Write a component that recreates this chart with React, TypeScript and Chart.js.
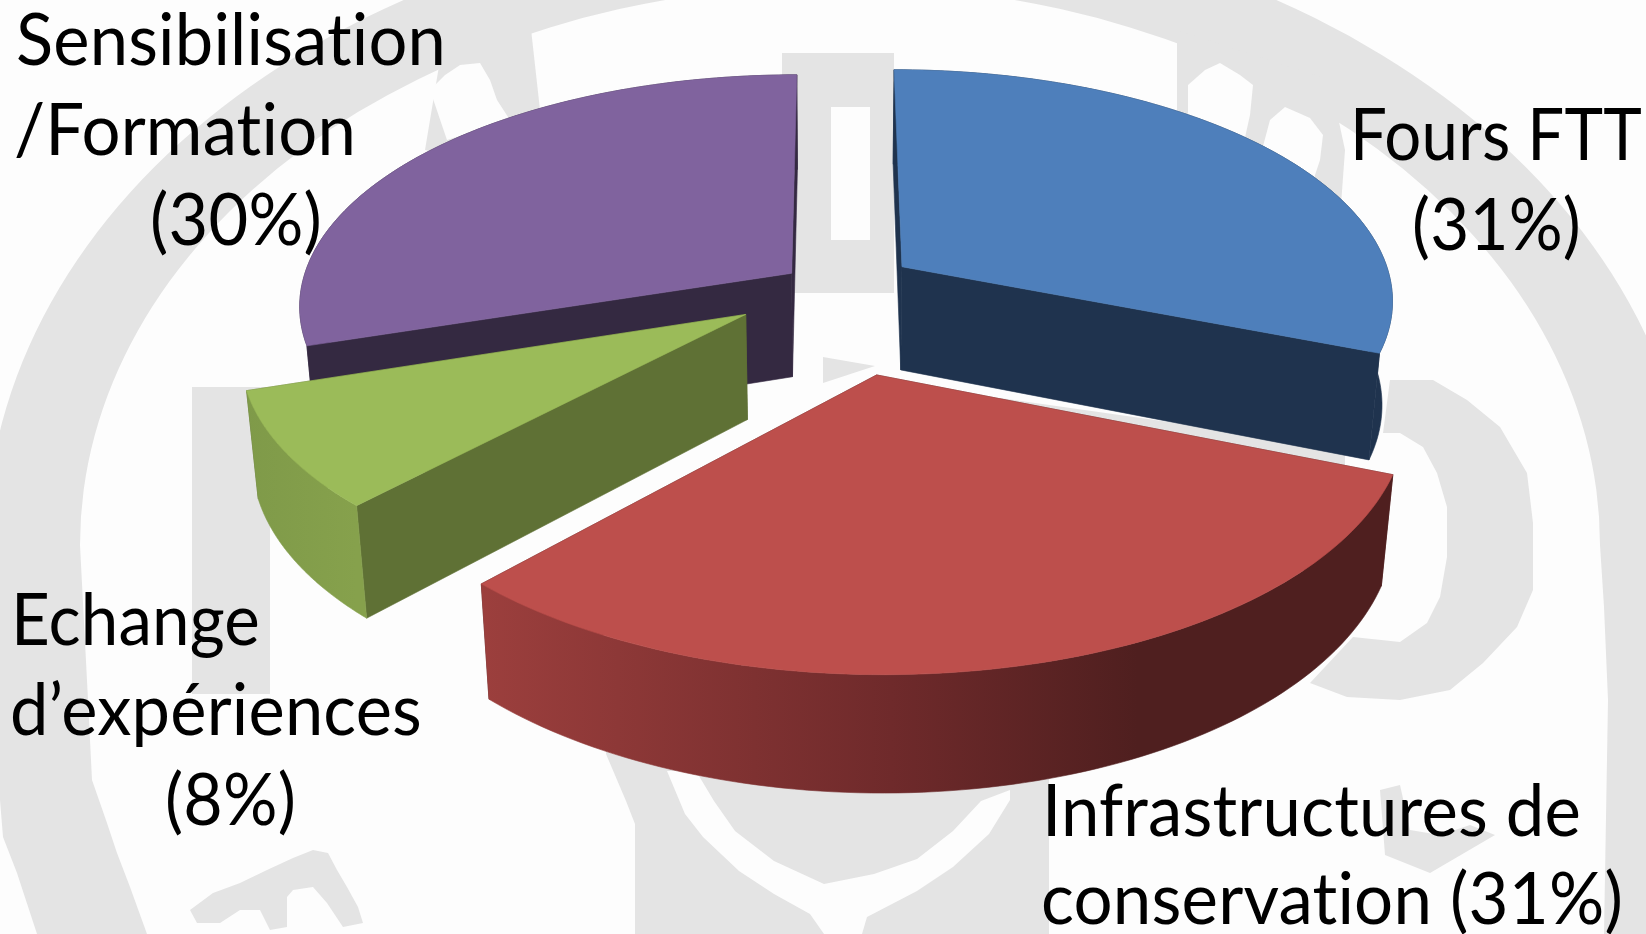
import React, { useEffect, useRef } from "react";
import { Chart, registerables } from "chart.js";

Chart.register(...registerables);

// ---- data ----
const categories = ["Fours FTT", "Infrastructures de conservation", "Echange d’expériences", "Sensibilisation /Formation"];
const shares = [31, 31, 8, 30];

// ---- style: colours per slice ----
const topColors = ["#4e7fbb", "#bd4f4c", "#9bbb59", "#80639e"];
const faceColors = ["#1f334e", "#4f1f1f", "#5f7135", "#342941"];
const rimStops: [number, string][][] = [
  [[0, "#1f334e"], [1, "#1f334e"]],
  [[0, "#9c3f3d"], [0.45, "#6f2a2b"], [0.72, "#4f1f1f"], [1, "#4f1f1f"]],
  [[0, "#7f9a49"], [1, "#86a14c"]],
  [[0, "#342941"], [1, "#342941"]],
];
// How far each slice is pulled out of the pie, as a fraction of its radius
const sliceExplode = [0.167, 0.37, 0.212, 0.11];
const sliceRadius = [1, 1.014, 1, 1];
const paintOrder = [3, 0, 2, 1];

// ---- style: camera of the 3D pie ----
const camera = { cx: 835, cy: 288, rx: 491, ry: 229, persp: 0.135, depthPersp: 0.019, depth: 106 };

// ---- labels: text, left edge, baseline, ink width ----
const labelLines = ["Sensibilisation", "/Formation", "(30%)", "Fours FTT", "(31%)", "Echange", "d’expériences", "(8%)", "Infrastructures de", "conservation (31%)"];
const labelX = [16, 14, 150, 1350, 1412, 11, 10, 165, 1042, 1041];
const labelY = [65, 155, 245, 160, 250, 645, 735, 825, 836, 924];
const labelW = [430, 342, 172, 292, 169, 249, 412, 131, 539, 582];
const labelFont = '71px Lato, "Open Sans", sans-serif';

const project = (x: number, y: number, z: number): [number, number] => {
  const w = 1 - camera.persp * y + camera.depthPersp * z;
  return [camera.cx + (camera.rx * x) / w, camera.cy + (camera.ry * y + camera.depth * z) / w];
};

// ---- background watermark ----
const mark = "#e4e4e4";
const paper = "#fdfdfd";
const grayPolys: number[][][] = [
  [[0, 545], [80, 545], [88, 700], [92, 780], [107, 823], [117, 853], [130, 887], [147, 934], [37, 934], [17, 873], [3, 837], [0, 800]],
  [[1600, 545], [1646, 545], [1646, 934], [1604, 934], [1608, 700], [1604, 607]],
  [[192, 387], [270, 387], [270, 694], [192, 694]],
  [[782, 53], [894, 53], [894, 293], [782, 293]],
  [[823, 357], [875, 366], [823, 383]],
  [[1000, 398], [1345, 447], [1345, 470], [1000, 420]],
  [[1390, 380], [1433, 380], [1467, 400], [1500, 427], [1527, 473], [1533, 523], [1533, 590], [1517, 627], [1483, 663], [1450, 690], [1400, 700], [1347, 697], [1310, 683], [1353, 637], [1400, 642], [1427, 623], [1440, 597], [1447, 557], [1447, 507], [1437, 473], [1423, 447], [1400, 433], [1383, 433]],
  [[606, 740], [606, 754], [626, 801], [635, 824], [635, 934], [1049, 934], [1049, 770]],
  [[190, 910], [213, 893], [240, 883], [267, 870], [293, 858], [313, 850], [328, 853], [337, 870], [347, 887], [358, 907], [363, 923], [343, 927], [327, 903], [313, 887], [293, 890], [287, 897], [287, 927], [270, 930], [260, 910], [240, 910], [220, 923], [197, 923]],
  [[1380, 790], [1400, 785], [1410, 830], [1440, 835], [1470, 825], [1495, 835], [1430, 873], [1385, 855]],
  [[1177, 30], [1330, 80], [1345, 150], [1337, 260], [1177, 110]],
  [[530, 20], [440, 60], [425, 150], [520, 170], [540, 110]],
];
const paperPolys: number[][][] = [
  [[831, 107], [870, 107], [870, 240], [831, 240]],
  [[667, 771], [696, 771], [714, 801], [735, 831], [774, 861], [824, 884], [874, 874], [917, 859], [953, 831], [981, 801], [1010, 790], [1010, 800], [989, 834], [953, 867], [917, 891], [867, 917], [862, 934], [824, 934], [810, 914], [774, 894], [739, 871], [703, 837], [685, 814]],
  [[1188, 115], [1188, 85], [1205, 70], [1220, 63], [1240, 75], [1253, 85], [1250, 115], [1240, 160], [1190, 130]],
  [[1262, 150], [1270, 120], [1285, 107], [1310, 118], [1323, 135], [1320, 160], [1310, 190], [1262, 170]],
  [[430, 90], [445, 75], [460, 65], [480, 63], [490, 80], [497, 100], [510, 120], [447, 140]],
];

const polygon = (ctx: CanvasRenderingContext2D, pts: number[][]) => {
  ctx.beginPath();
  pts.forEach((p, i) => (i ? ctx.lineTo(p[0], p[1]) : ctx.moveTo(p[0], p[1])));
  ctx.closePath();
};

const fillFace = (ctx: CanvasRenderingContext2D, pts: number[][], color: any) => {
  polygon(ctx, pts);
  ctx.fillStyle = color;
  ctx.strokeStyle = color;
  ctx.lineWidth = 0.6;
  ctx.fill();
  ctx.stroke();
};

const watermarkPlugin = {
  id: "watermark",
  beforeDraw(chart: any) {
    const ctx: CanvasRenderingContext2D = chart.ctx;
    ctx.save();
    ctx.fillStyle = paper;
    ctx.fillRect(0, 0, chart.width, chart.height);
    ctx.fillStyle = mark;
    ctx.save();
    ctx.beginPath();
    ctx.rect(0, 0, chart.width, 546);
    ctx.clip();
    ctx.beginPath();
    ctx.ellipse(840, 545, 854, 634, 0, 0, Math.PI * 2);
    ctx.ellipse(840, 545, 760, 560, 0, 0, Math.PI * 2);
    ctx.fill("evenodd");
    ctx.restore();
    grayPolys.forEach((p) => {
      polygon(ctx, p);
      ctx.fill();
    });
    ctx.fillStyle = paper;
    paperPolys.forEach((p) => {
      polygon(ctx, p);
      ctx.fill();
    });
    ctx.restore();
  },
};

const pie3dPlugin = {
  id: "pie3d",
  // Replaces the flat paint of the arcs: every angle comes from the chart's own ArcElements
  beforeDatasetsDraw(chart: any) {
    const ctx: CanvasRenderingContext2D = chart.ctx;
    const arcs = chart.getDatasetMeta(0).data;
    ctx.save();
    ctx.lineJoin = "round";
    paintOrder.forEach((i) => {
      const arc = arcs[i];
      const mid = (arc.startAngle + arc.endAngle) / 2;
      const ax = sliceExplode[i] * Math.cos(mid);
      const ay = sliceExplode[i] * Math.sin(mid);
      const steps = 90;
      const ring: number[][] = [];
      for (let s = 0; s <= steps; s++) {
        const t = arc.startAngle + ((arc.endAngle - arc.startAngle) * s) / steps;
        ring.push([ax + sliceRadius[i] * Math.cos(t), ay + sliceRadius[i] * Math.sin(t)]);
      }
      const at = (p: number[], z: number) => project(p[0], p[1], z);
      const apex = [ax, ay];
      const first = ring[0];
      const last = ring[steps];
      const cut = (edge: number[]) => [at(apex, 0), at(edge, 0), at(edge, 1), at(apex, 1)];
      const cuts = [first, last].sort((a, b) => at(a, 0)[1] - at(b, 0)[1]);
      cuts.forEach((edge) => fillFace(ctx, cut(edge), faceColors[i]));

      const xs = ring.map((p) => at(p, 0)[0]);
      const grad = ctx.createLinearGradient(Math.min(...xs), 0, Math.max(...xs), 0);
      rimStops[i].forEach(([o, c]) => grad.addColorStop(o, c));
      const rim = [...ring.map((p) => at(p, 0)), ...ring.slice().reverse().map((p) => at(p, 1))];
      fillFace(ctx, rim, grad);

      fillFace(ctx, [at(apex, 0), ...ring.map((p) => at(p, 0))], arc.options.backgroundColor);
    });
    ctx.restore();
    return false;
  },
  afterDraw(chart: any) {
    const ctx: CanvasRenderingContext2D = chart.ctx;
    ctx.save();
    ctx.font = labelFont;
    (ctx as any).letterSpacing = "0.2px";
    ctx.fillStyle = "#000000";
    ctx.textAlign = "left";
    ctx.textBaseline = "alphabetic";
    labelLines.forEach((line, i) => ctx.fillText(line, labelX[i], labelY[i], labelW[i]));
    ctx.restore();
  },
};

export default function App() {
  const ref = useRef<HTMLCanvasElement>(null);
  useEffect(() => {
    const chart = new Chart(ref.current as HTMLCanvasElement, {
      type: "pie",
      data: {
        labels: categories,
        datasets: [{ data: shares, backgroundColor: topColors, borderWidth: 0 }],
      },
      options: {
        animation: false,
        responsive: false,
        plugins: { legend: { display: false }, tooltip: { enabled: false } },
      },
      plugins: [watermarkPlugin, pie3dPlugin],
    } as any);
    return () => chart.destroy();
  }, []);
  return (
    <div style={{ position: "fixed", left: 0, top: 0, width: 1646, height: 934, overflow: "hidden" }}>
      <canvas ref={ref} width={1646} height={934} style={{ display: "block" }} />
    </div>
  );
}
